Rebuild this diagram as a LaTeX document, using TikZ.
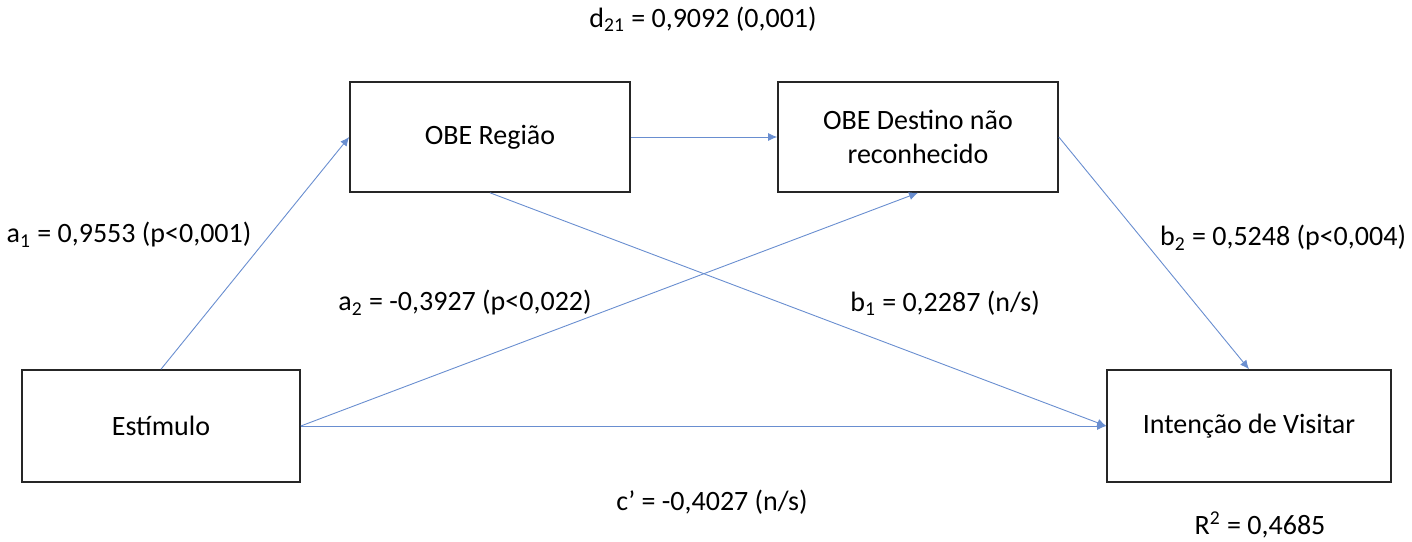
\documentclass[tikz,border=0pt]{standalone}
\usepackage{fontspec}
\setmainfont{Carlito}
\usetikzlibrary{arrows.meta,positioning,calc}

\definecolor{officeblue}{HTML}{4472C4}

\tikzset{
    varbox/.style={draw=black!85, line width=0.8pt, minimum width=140pt, minimum height=56pt, align=center, font=\fontsize{14}{17}\selectfont},
    path/.style={draw=officeblue!80, line width=0.45pt, -{Latex[length=4.5pt,width=4pt]}},
    coef/.style={font=\fontsize{14}{17}\selectfont, inner sep=0pt}
}

\begin{document}
\begin{tikzpicture}[x=0.5pt,y=-0.5pt]
\useasboundingbox (0,0) rectangle (1412,541);
% boxes
\node[varbox, minimum width=139pt] (est) at (161,426) {Estímulo};
\node[varbox, minimum height=55pt] (reg) at (490,137) {OBE Região};
\node[varbox, minimum height=55pt] (dest) at (918,137) {OBE Destino não\\reconhecido};
\node[varbox, minimum width=142pt] (int) at (1249,426) {Intenção de Visitar};

% paths
\draw[path] (est.north) -- (reg.west);
\draw[path] (reg.east) -- (dest.west);
\draw[path] (dest.east) -- (int.north);
\draw[path] (reg.south) -- (int.west);
\draw[path] (est.east) -- (dest.south);
\draw[path] (est.east) -- (int.west);

% coefficients
\node[coef] (d21) at (703,19) {d\textsubscript{21} = 0,9092 (0,001)};
\node[coef] (a1) at (129,235) {a\textsubscript{1} = 0,9553 (p<0,001)};
\node[coef] (a2) at (465,303) {a\textsubscript{2} = -0,3927 (p<0,022)};
\node[coef] (b1) at (945,303) {b\textsubscript{1} = 0,2287 (n/s)};
\node[coef] (b2) at (1283,238) {b\textsubscript{2} = 0,5248 (p<0,004)};
\node[coef] (c) at (712,502) {c’ = -0,4027 (n/s)};
\node[coef] (r2) at (1260,525) {R\textsuperscript{2} = 0,4685};
\end{tikzpicture}
\end{document}
